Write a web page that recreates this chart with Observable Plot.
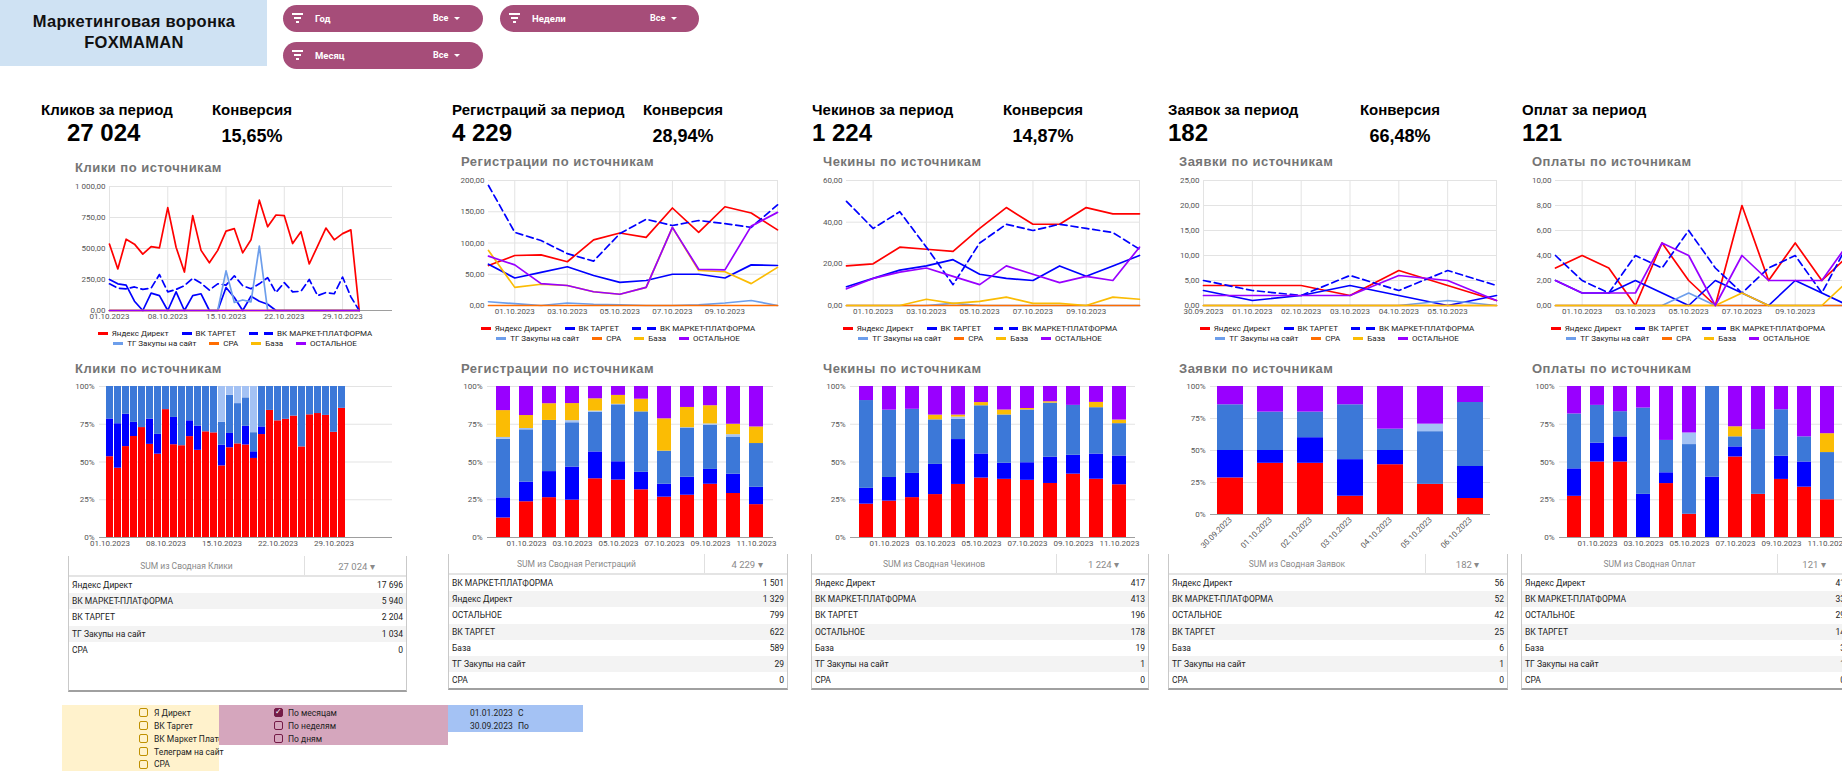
<!DOCTYPE html>
<html lang="ru">
<head>
<meta charset="utf-8">
<title>Маркетинговая воронка FOXMAMAN</title>
<script src="https://cdn.jsdelivr.net/npm/d3@7"></script>
<script src="https://cdn.jsdelivr.net/npm/@observablehq/plot@0.6"></script>
<style>
html,body{margin:0;padding:0;background:#fff;}
#root{position:relative;width:1842px;height:774px;overflow:hidden;background:#fff;font-family:Roboto,"Liberation Sans",Arial,sans-serif;color:#212121;}
#root div{box-sizing:border-box;}
</style>
</head>
<body>
<div id="root"></div>
<script>
// ---------------- DATA ----------------
const SERIES = ["Яндекс Директ","ВК ТАРГЕТ","ВК МАРКЕТ-ПЛАТФОРМА","ТГ Закупы на сайт","СРА","База","ОСТАЛЬНОЕ"];
const LINE_COLORS = ["#ff0000","#0000ff","#0000ff","#6d9eeb","#ff6d01","#fbbc04","#9900ff"];
const BAR_COLORS  = ["#ff0000","#0000ff","#3c78d8","#a4c2f4","#ff6d01","#fbbc04","#9900ff"];

const KPI_LABELS = ["Кликов за период","Регистраций за период","Чекинов за период","Заявок за период","Оплат за период"];
const KPI_VALUES = ["27 024","4 229","1 224","182","121"];
const CONV_LABEL = "Конверсия";
const CONV_VALUES = ["15,65%","28,94%","14,87%","66,48%"];
const LINE_TITLES = ["Клики по источникам","Регистрации по источникам","Чекины по источникам","Заявки по источникам","Оплаты по источникам"];

// Clicks (daily, 01.10–31.10)
const CLICK_DATES = ["01.10.2023","02.10.2023","03.10.2023","04.10.2023","05.10.2023","06.10.2023","07.10.2023","08.10.2023","09.10.2023","10.10.2023","11.10.2023","12.10.2023","13.10.2023","14.10.2023","15.10.2023","16.10.2023","17.10.2023","18.10.2023","19.10.2023","20.10.2023","21.10.2023","22.10.2023","23.10.2023","24.10.2023","25.10.2023","26.10.2023","27.10.2023","28.10.2023","29.10.2023","30.10.2023","31.10.2023"];
const CLICKS_YANDEX = [535,335,575,535,455,515,505,830,510,310,765,485,385,485,640,660,465,570,890,675,770,765,540,635,375,520,665,570,620,650,0];
const CLICKS_TARGET = [250,215,205,75,0,140,120,0,150,0,120,135,0,0,185,105,0,115,75,50,0,0,0,0,0,0,0,0,0,0,0];
const CLICKS_MARKET = [215,180,175,190,170,180,290,150,170,200,260,220,165,215,205,280,200,175,215,265,145,225,150,155,250,120,145,135,270,110,0];
const CLICKS_TG     = [0,0,0,0,0,0,0,0,0,0,0,0,0,0,320,65,85,70,520,0,0,0,0,0,0,0,0,0,0,0,0];
const CLICKS_CPA    = [0,0,0,0,0,0,0,0,0,0,0,0,0,0,0,0,0,0,0,0,0,0,0,0,0,0,0,0,0,0,0];
const CLICKS_BAZA   = [0,0,0,0,0,0,0,0,0,0,0,0,0,0,0,0,0,0,0,0,0,0,0,0,0,0,0,0,0,0,0];
const CLICKS_OTHER  = [0,0,0,0,0,0,0,0,0,0,0,0,0,0,0,0,0,0,0,0,0,0,0,0,0,0,0,0,0,0,0];
const CLICK_X_TICKS = ["01.10.2023","08.10.2023","15.10.2023","22.10.2023","29.10.2023"];
const CLICK_Y_TICKS = [0,250,500,750,1000];

// Registrations / checkins / payments (30.09–11.10)
const DATES_12 = ["30.09.2023","01.10.2023","02.10.2023","03.10.2023","04.10.2023","05.10.2023","06.10.2023","07.10.2023","08.10.2023","09.10.2023","10.10.2023","11.10.2023"];
const ODD_TICKS = ["01.10.2023","03.10.2023","05.10.2023","07.10.2023","09.10.2023"];
const ODD_TICKS_ALL = ["01.10.2023","03.10.2023","05.10.2023","07.10.2023","09.10.2023","11.10.2023"];

const REG_YANDEX = [64,80,81,70,105,116,109,156,117,158,148,121];
const REG_TARGET = [66,44,53,62,48,37,40,50,50,44,65,64];
const REG_MARKET = [192,117,104,83,71,115,138,128,136,131,125,161];
const REG_TG     = [6,3,0,4,2,1,0,0,1,4,8,0];
const REG_CPA    = [0,0,0,0,0,0,0,0,0,0,0,0];
const REG_BAZA   = [88,29,34,32,22,18,29,125,56,54,35,61];
const REG_OTHER  = [79,65,35,32,22,18,29,125,58,57,127,149];
const REG_Y_TICKS = [0,50,100,150,200];

const CHK_YANDEX = [19,20,28,27,26,37,47,39,39,47,44,44];
const CHK_TARGET = [9,13,17,19,22,15,13,12,19,14,19,24];
const CHK_MARKET = [50,37,45,28,10,30,39,36,39,37,35,27];
const CHK_TG     = [0,0,0,0,1,0,0,0,0,0,0,0];
const CHK_CPA    = [0,0,0,0,0,0,0,0,0,0,0,0];
const CHK_BAZA   = [0,0,0,3,1,2,4,1,1,0,4,3];
const CHK_OTHER  = [8,13,16,18,14,10,19,15,11,14,12,28];
const CHK_Y_TICKS = [0,20,40,60];

// Applications (30.09–06.10)
const DATES_7 = ["30.09.2023","01.10.2023","02.10.2023","03.10.2023","04.10.2023","05.10.2023","06.10.2023"];
const APP_X_TICKS = ["30.09.2023","01.10.2023","02.10.2023","03.10.2023","04.10.2023","05.10.2023"];
const APP_YANDEX = [4,4,4,2,7,4,1];
const APP_TARGET = [3,1,2,4,2,0,2];
const APP_MARKET = [5,3,2,6,3,7,4];
const APP_TG     = [0,0,0,0,0,1,0];
const APP_CPA    = [0,0,0,0,0,0,0];
const APP_BAZA   = [0,0,0,0,0,0,0];
const APP_OTHER  = [2,2,2,2,6,5,1];
const APP_Y_TICKS = [0,5,10,15,20,25];

const PAY_YANDEX = [3,4,3,0,5,2,0,8,2,5,2,4];
const PAY_TARGET = [2,1,1,2,1,0,2,1,0,2,1,0];
const PAY_MARKET = [4,2,1,4,3,6,3,1,3,4,1,5];
const PAY_TG     = [0,0,0,0,0,1,0,0,0,0,0,0];
const PAY_CPA    = [0,0,0,0,0,0,0,0,0,0,0,0];
const PAY_BAZA   = [0,0,0,0,0,0,0,1,0,0,0,2];
const PAY_OTHER  = [2,1,1,1,5,4,0,4,2,2,2,5];
const PAY_Y_TICKS = [0,2,4,6,8,10];

// Pivot tables
const TABLE_TITLES = ["SUM из Сводная Клики","SUM из Сводная Регистраций","SUM из Сводная Чекинов","SUM из Сводная Заявок","SUM из Сводная Оплат"];
const T1_NAMES = ["Яндекс Директ","ВК МАРКЕТ-ПЛАТФОРМА","ВК ТАРГЕТ","ТГ Закупы на сайт","СРА"];
const T1_VALUES = [17696,5940,2204,1034,0];
const T2_NAMES = ["ВК МАРКЕТ-ПЛАТФОРМА","Яндекс Директ","ОСТАЛЬНОЕ","ВК ТАРГЕТ","База","ТГ Закупы на сайт","СРА"];
const T2_VALUES = [1501,1329,799,622,589,29,0];
const T3_NAMES = ["Яндекс Директ","ВК МАРКЕТ-ПЛАТФОРМА","ВК ТАРГЕТ","ОСТАЛЬНОЕ","База","ТГ Закупы на сайт","СРА"];
const T3_VALUES = [417,413,196,178,19,1,0];
const T4_NAMES = ["Яндекс Директ","ВК МАРКЕТ-ПЛАТФОРМА","ОСТАЛЬНОЕ","ВК ТАРГЕТ","База","ТГ Закупы на сайт","СРА"];
const T4_VALUES = [56,52,42,25,6,1,0];
const T5_NAMES = ["Яндекс Директ","ВК МАРКЕТ-ПЛАТФОРМА","ОСТАЛЬНОЕ","ВК ТАРГЕТ","База","ТГ Закупы на сайт","СРА"];
const T5_VALUES = [41,33,29,14,3,1,0];
const TABLE_TOTALS = [27024,4229,1224,182,121];

// Controls
const FILTER_LABELS = ["Год","Недели","Месяц"];
const SOURCE_CHECKS = ["Я Директ","ВК Таргет","ВК Маркет Платформа","Телеграм на сайт","СРА"];
const PERIOD_CHECKS = ["По месяцам","По неделям","По дням"];
const DATE_FROM = "01.01.2023", DATE_TO = "30.09.2023";

// ---------------- HELPERS ----------------
const loc = d3.formatLocale({decimal: ",", thousands: "\u00a0", grouping: [3], currency: ["", ""]});
const fmt2 = loc.format(",.2f");
const fmtInt = loc.format(",d");
const parse = d3.utcParse("%d.%m.%Y");
const fmtDate = d3.utcFormat("%d.%m.%Y");
const root = document.getElementById("root");
const KPI_FONT = '"Liberation Sans",Arial,sans-serif';

function mk(parent, css, str) {
  const d = document.createElement("div");
  d.style.cssText = "position:absolute;" + css;
  if (str != null) d.textContent = str;
  parent.appendChild(d);
  return d;
}
function text(parent, x, baseline, size, str, o = {}) {
  const {weight = 400, color = "#212121", align = "left", family = null, w = 600, ls = 0} = o;
  const top = baseline - 0.845 * size;
  let left = x;
  if (align === "center") left = x - w / 2;
  if (align === "right") left = x - w;
  return mk(parent, `left:${left}px;top:${top}px;${align !== "left" ? `width:${w}px;` : ""}text-align:${align};font-size:${size}px;line-height:1;font-weight:${weight};color:${color};white-space:nowrap;letter-spacing:${ls}px;${family ? `font-family:${family};` : ""}`, str);
}
function place(svg, x, y) {
  svg.style.position = "absolute";
  svg.style.left = x + "px";
  svg.style.top = y + "px";
  root.appendChild(svg);
}
const plotStyle = {fontFamily: "Roboto, Arial, sans-serif", fontSize: "8px", color: "#555", background: "transparent", overflow: "visible"};

function lineChart({dates, values, box, yTicks, gridTicks, labelTicks, xDomain}) {
  const mL = 52, mR = 14, mT = 8, mB = 18;
  const marks = [
    Plot.gridY(yTicks, {stroke: "#e3e3e3", strokeOpacity: 1}),
    Plot.gridX(gridTicks.map(parse), {stroke: "#e3e3e3", strokeOpacity: 1}),
    Plot.axisY(yTicks, {tickSize: 0, tickPadding: 4, tickFormat: fmt2, label: null}),
    Plot.axisX(labelTicks.map(parse), {tickSize: 0, tickPadding: 3, tickFormat: fmtDate, label: null}),
    Plot.ruleY([0], {stroke: "#9e9e9e"})
  ];
  SERIES.forEach((s, k) => {
    const pts = dates.map((d, i) => ({date: parse(d), value: values[k][i]}));
    marks.push(Plot.line(pts, {x: "date", y: "value", stroke: LINE_COLORS[k], strokeWidth: 1.7,
      strokeDasharray: k === 2 ? "7,4" : undefined}));
  });
  const svg = Plot.plot({
    width: box.x1 - box.x0 + mL + mR, height: box.y1 - box.y0 + mT + mB,
    marginLeft: mL, marginRight: mR, marginTop: mT, marginBottom: mB,
    x: {type: "utc", domain: xDomain.map(parse)},
    y: {domain: [0, yTicks[yTicks.length - 1]]},
    style: plotStyle, marks
  });
  place(svg, box.x0 - mL, box.y0 - mT);
}

function barChart({dates, values, box, domain, labelTicks, rotate = false, pad = 0.37}) {
  const mL = 40, mR = 14, mT = 6, mB = rotate ? 50 : 16;
  const data = [];
  SERIES.forEach((s, k) => dates.forEach((d, i) => {
    if (values[k][i] > 0) data.push({day: d, value: values[k][i], series: s});
  }));
  const svg = Plot.plot({
    width: box.x1 - box.x0 + mL + mR, height: box.y1 - box.y0 + mT + mB,
    marginLeft: mL, marginRight: mR, marginTop: mT, marginBottom: mB,
    x: {type: "band", domain, paddingInner: pad, paddingOuter: pad / 2},
    y: {domain: [0, 1]},
    color: {domain: SERIES, range: BAR_COLORS},
    style: plotStyle,
    marks: [
      Plot.gridY([0.25, 0.5, 0.75, 1], {stroke: "#e3e3e3", strokeOpacity: 1}),
      Plot.axisY([0, 0.25, 0.5, 0.75, 1], {tickSize: 0, tickPadding: 5, tickFormat: d => Math.round(d * 100) + "%", label: null}),
      Plot.barY(data, Plot.stackY({x: "day", y: "value", fill: "series", order: SERIES, offset: "normalize"})),
      Plot.ruleY([0], {stroke: "#9e9e9e"}),
      Plot.axisX(labelTicks, {tickSize: 0, tickPadding: rotate ? 4 : 3, tickRotate: rotate ? -45 : 0, label: null})
    ]
  });
  place(svg, box.x0 - mL, box.y0 - mT);
}

function legend(cx, y1, y2) {
  [[y1, [0, 1, 2]], [y2, [3, 4, 5, 6]]].forEach(([yc, idxs]) => {
    const row = mk(root, `left:${cx - 220}px;top:${yc - 5}px;width:440px;height:10px;display:flex;justify-content:center;align-items:center;gap:13px;font-size:8px;color:#222;white-space:nowrap;`);
    idxs.forEach(k => {
      const item = document.createElement("div");
      item.style.cssText = "display:flex;align-items:center;gap:4px;";
      const sw = document.createElement("div");
      const c = LINE_COLORS[k];
      sw.style.cssText = k === 2
        ? `width:24px;height:3px;background:linear-gradient(to right, ${c} 0 9px, transparent 9px 15px, ${c} 15px 24px);`
        : `width:10px;height:3px;background:${c};`;
      const lab = document.createElement("span");
      lab.textContent = SERIES[k];
      item.appendChild(sw); item.appendChild(lab);
      row.appendChild(item);
    });
  });
}

function pivot(x, y, w, divX, title, total, names, vals) {
  const H = 136, hh = 21, rh = 16.2;
  const t = mk(root, `left:${x}px;top:${y}px;width:${w}px;height:${H}px;border-left:1px solid #c9c9c9;border-right:1px solid #c9c9c9;border-bottom:2px solid #a0a0a0;background:#fff;font-size:8.5px;`);
  mk(t, `left:0;top:0;width:${divX}px;height:${hh}px;line-height:${hh}px;text-align:center;color:#8a8a8a;white-space:nowrap;`, title);
  mk(t, `left:${divX}px;top:0;width:${w - divX}px;height:${hh}px;line-height:${hh}px;text-align:center;color:#8a8a8a;border-left:1px solid #e0e0e0;font-size:9.5px;white-space:nowrap;`, fmtInt(total) + " \u25BE");
  mk(t, `left:0;top:${hh - 2}px;width:100%;height:2px;background:#e4e4e4;`);
  names.forEach((n, i) => {
    const r = mk(t, `left:0;top:${hh + i * rh}px;width:100%;height:${rh}px;line-height:${rh}px;background:${i % 2 ? "#f3f3f3" : "#fff"};color:#222;`);
    mk(r, `left:3px;top:0;white-space:nowrap;`, n);
    mk(r, `right:3px;top:0;white-space:nowrap;`, fmtInt(vals[i]));
  });
}

function checkbox(x, yc, color, checked) {
  const b = mk(root, `left:${x}px;top:${yc - 5}px;width:9px;height:9px;border:1.5px solid ${color};border-radius:2px;background:${checked ? color : "transparent"};`);
  if (checked) mk(b, "left:0;top:-2px;width:100%;text-align:center;font-size:8px;line-height:9px;color:#fff;", "\u2713");
}

// ---------------- HEADER ----------------
mk(root, "left:0;top:0;width:267px;height:66px;background:#cfe2f3;");
text(root, 134, 27, 16.5, "Маркетинговая воронка", {weight: 700, align: "center", family: KPI_FONT, w: 260, color: "#111", ls: 0.3});
text(root, 134, 48, 16.5, "FOXMAMAN", {weight: 700, align: "center", family: KPI_FONT, w: 260, color: "#111", ls: 0.3});

function pill(x, y, w, label) {
  const p = mk(root, `left:${x}px;top:${y}px;width:${w}px;height:27px;border-radius:14px;background:#a64d79;`);
  [[11, 8], [7, 12], [3, 16]].forEach(([bw, t]) => mk(p, `left:${9 + (11 - bw) / 2}px;top:${t}px;width:${bw}px;height:1.6px;background:#fff;`));
  text(p, 32, 17, 9.5, label, {weight: 700, color: "#fff"});
  text(p, 150, 17, 9, "Все", {weight: 700, color: "#fff"});
  mk(p, "left:171px;top:12px;width:0;height:0;border-left:3px solid transparent;border-right:3px solid transparent;border-top:3.5px solid #fff;");
}
pill(283, 5, 200, FILTER_LABELS[0]);
pill(500, 5, 199, FILTER_LABELS[1]);
pill(283, 42, 200, FILTER_LABELS[2]);

// ---------------- KPIs ----------------
const KPI_X = [41, 452, 812, 1168, 1522];
const KPI_VX = [67, 452, 812, 1168, 1522];
const CONV_CX = [252, 683, 1043, 1400];
KPI_LABELS.forEach((l, i) => {
  text(root, KPI_X[i], 115, 15, l, {weight: 700, family: KPI_FONT, color: "#000"});
  text(root, KPI_VX[i], 141, 24, KPI_VALUES[i], {weight: 700, family: KPI_FONT, color: "#000"});
});
CONV_VALUES.forEach((v, i) => {
  text(root, CONV_CX[i], 115, 15, CONV_LABEL, {weight: 700, family: KPI_FONT, color: "#000", align: "center", w: 160});
  text(root, CONV_CX[i], 142, 18, v, {weight: 700, family: KPI_FONT, color: "#000", align: "center", w: 160});
});

// ---------------- TITLES ----------------
const TITLE_X = [75, 461, 823, 1179, 1532];
LINE_TITLES.forEach((t, i) => {
  text(root, TITLE_X[i], i === 0 ? 172 : 166, 13, t, {weight: 700, family: KPI_FONT, color: "#757575", ls: 0.5});
  text(root, TITLE_X[i], 373, 13, t, {weight: 700, family: KPI_FONT, color: "#757575", ls: 0.5});
});

// ---------------- LINE CHARTS ----------------
const CLICK_VALUES = [CLICKS_YANDEX, CLICKS_TARGET, CLICKS_MARKET, CLICKS_TG, CLICKS_CPA, CLICKS_BAZA, CLICKS_OTHER];
const REG_VALUES = [REG_YANDEX, REG_TARGET, REG_MARKET, REG_TG, REG_CPA, REG_BAZA, REG_OTHER];
const CHK_VALUES = [CHK_YANDEX, CHK_TARGET, CHK_MARKET, CHK_TG, CHK_CPA, CHK_BAZA, CHK_OTHER];
const APP_VALUES = [APP_YANDEX, APP_TARGET, APP_MARKET, APP_TG, APP_CPA, APP_BAZA, APP_OTHER];
const PAY_VALUES = [PAY_YANDEX, PAY_TARGET, PAY_MARKET, PAY_TG, PAY_CPA, PAY_BAZA, PAY_OTHER];

lineChart({dates: CLICK_DATES, values: CLICK_VALUES, box: {x0: 109, x1: 392, y0: 186, y1: 310},
  yTicks: CLICK_Y_TICKS, gridTicks: CLICK_X_TICKS, labelTicks: CLICK_X_TICKS, xDomain: ["01.10.2023", "04.11.2023"]});
lineChart({dates: DATES_12, values: REG_VALUES, box: {x0: 488, x1: 777, y0: 180, y1: 305},
  yTicks: REG_Y_TICKS, gridTicks: ODD_TICKS_ALL, labelTicks: ODD_TICKS, xDomain: ["30.09.2023", "11.10.2023"]});
lineChart({dates: DATES_12, values: CHK_VALUES, box: {x0: 846, x1: 1139, y0: 180, y1: 305},
  yTicks: CHK_Y_TICKS, gridTicks: ODD_TICKS_ALL, labelTicks: ODD_TICKS, xDomain: ["30.09.2023", "11.10.2023"]});
lineChart({dates: DATES_7, values: APP_VALUES, box: {x0: 1203, x1: 1496, y0: 180, y1: 305},
  yTicks: APP_Y_TICKS, gridTicks: DATES_7, labelTicks: APP_X_TICKS, xDomain: ["30.09.2023", "06.10.2023"]});
lineChart({dates: DATES_12, values: PAY_VALUES, box: {x0: 1555, x1: 1848, y0: 180, y1: 305},
  yTicks: PAY_Y_TICKS, gridTicks: ODD_TICKS_ALL, labelTicks: ODD_TICKS, xDomain: ["30.09.2023", "11.10.2023"]});

legend(235, 333, 343);
legend(618, 328, 338);
legend(980, 328, 338);
legend(1337, 328, 338);
legend(1688, 328, 338);

// ---------------- 100% STACKED BARS ----------------
const CLICK_BAR_DOMAIN = d3.utcDay.range(parse("01.10.2023"), parse("05.11.2023")).map(fmtDate);
barChart({dates: CLICK_DATES, values: CLICK_VALUES, box: {x0: 99, x1: 392, y0: 386, y1: 537},
  domain: CLICK_BAR_DOMAIN, labelTicks: CLICK_X_TICKS, pad: 0.16});
barChart({dates: DATES_12, values: REG_VALUES, box: {x0: 487, x1: 773, y0: 386, y1: 537},
  domain: DATES_12, labelTicks: ODD_TICKS_ALL});
barChart({dates: DATES_12, values: CHK_VALUES, box: {x0: 850, x1: 1135, y0: 386, y1: 537},
  domain: DATES_12, labelTicks: ODD_TICKS_ALL});
barChart({dates: DATES_7, values: APP_VALUES, box: {x0: 1210, x1: 1490, y0: 386, y1: 514},
  domain: DATES_7, labelTicks: DATES_7, rotate: true, pad: 0.35});
barChart({dates: DATES_12, values: PAY_VALUES, box: {x0: 1559, x1: 1843, y0: 386, y1: 537},
  domain: DATES_12, labelTicks: ODD_TICKS_ALL});

// ---------------- PIVOT TABLES ----------------
pivot(68, 556, 339, 235, TABLE_TITLES[0], TABLE_TOTALS[0], T1_NAMES, T1_VALUES);
pivot(448, 554, 340, 255, TABLE_TITLES[1], TABLE_TOTALS[1], T2_NAMES, T2_VALUES);
pivot(811, 554, 338, 244, TABLE_TITLES[2], TABLE_TOTALS[2], T3_NAMES, T3_VALUES);
pivot(1168, 554, 340, 256, TABLE_TITLES[3], TABLE_TOTALS[3], T4_NAMES, T4_VALUES);
pivot(1521, 554, 328, 255, TABLE_TITLES[4], TABLE_TOTALS[4], T5_NAMES, T5_VALUES);

// ---------------- BOTTOM CONTROLS ----------------
mk(root, "left:62px;top:705px;width:157px;height:66px;background:#fff2cc;");
SOURCE_CHECKS.forEach((s, i) => {
  const yc = 713 + i * 12.9;
  checkbox(139, yc, "#bf9000", false);
  text(root, 154, yc + 3, 8.5, s, {color: "#222"});
});
mk(root, "left:219px;top:705px;width:229px;height:40px;background:#d5a6bd;");
PERIOD_CHECKS.forEach((s, i) => {
  const yc = 713 + i * 13;
  checkbox(274, yc, "#741b47", i === 0);
  text(root, 288, yc + 3, 8.5, s, {color: "#222"});
});
mk(root, "left:448px;top:705px;width:135px;height:27px;background:#a4c2f4;");
text(root, 470, 716, 8.5, DATE_FROM, {color: "#222"});
text(root, 518, 716, 8.5, "С", {color: "#222"});
text(root, 470, 729, 8.5, DATE_TO, {color: "#222"});
text(root, 518, 729, 8.5, "По", {color: "#222"});
</script>
</body>
</html>
